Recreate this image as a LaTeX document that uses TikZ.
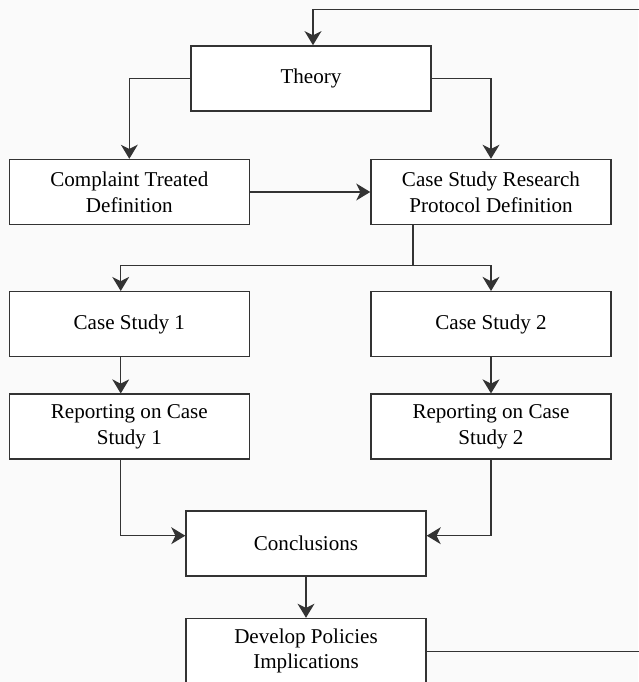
\documentclass[tikz,border=0pt]{standalone}
\usepackage{fontspec}
\setmainfont{Liberation Serif}
\usetikzlibrary{arrows.meta}
\tikzset{
  box/.style={draw=black!80, line width=1pt, fill=white,
              minimum width=6cm, minimum height=1.625cm, align=center,
              font=\fontsize{15}{18.2}\selectfont},
  link/.style={draw=black!80, line width=1pt},
  arr/.style={link, -{Stealth[length=10pt, width=12pt, inset=3pt]}},
}

\begin{document}
\begin{tikzpicture}
    \useasboundingbox[fill=black!2] (0,0) rectangle (15.95,17.05);

    \node[box] (theory) at (7.775,15.09) {Theory};
    \node[box] (complaint) at (3.233,12.25) {Complaint Treated\\Definition};
    \node[box] (protocol) at (12.275,12.25) {Case Study Research\\Protocol Definition};
    \node[box] (case1) at (3.233,8.945) {Case Study 1};
    \node[box] (case2) at (12.275,8.945) {Case Study 2};
    \node[box] (report1) at (3.233,6.383) {Reporting on Case\\Study 1};
    \node[box] (report2) at (12.275,6.383) {Reporting on Case\\Study 2};
    \node[box] (concl) at (7.65,3.4675) {Conclusions};
    \node[box] (policy) at (7.65,0.775) {Develop Policies\\Implications};

    \draw[arr] (theory.west) -| (complaint.north);
    \draw[arr] (theory.east) -| (protocol.north);
    \draw[arr] (complaint) -- (protocol);

    % split towards the two case studies
    \coordinate (split) at (10.325,10.41);
    \draw[link] (protocol.south -| split) -- (split);
    \draw[arr] (split) -| ([xshift=-0.215cm]case1.north);
    \draw[arr] (split) -| (case2.north);

    \draw[arr] ([xshift=-0.215cm]case1.south) -- ([xshift=-0.215cm]report1.north);
    \draw[arr] (case2) -- (report2);

    \draw[arr] ([xshift=-0.215cm]report1.south) |- ([yshift=0.19cm]concl.west);
    \draw[arr] (report2.south) |- ([yshift=0.19cm]concl.east);
    \draw[arr] (concl) -- (policy);

    % feedback loop back to theory
    \coordinate (loopbr) at (16.3,0.758);
    \coordinate (looptr) at (16.3,16.8175);
    \draw[arr] (policy.east |- loopbr) -- (loopbr) -- (looptr) -| ([xshift=0.05cm]theory.north);
\end{tikzpicture}
\end{document}
